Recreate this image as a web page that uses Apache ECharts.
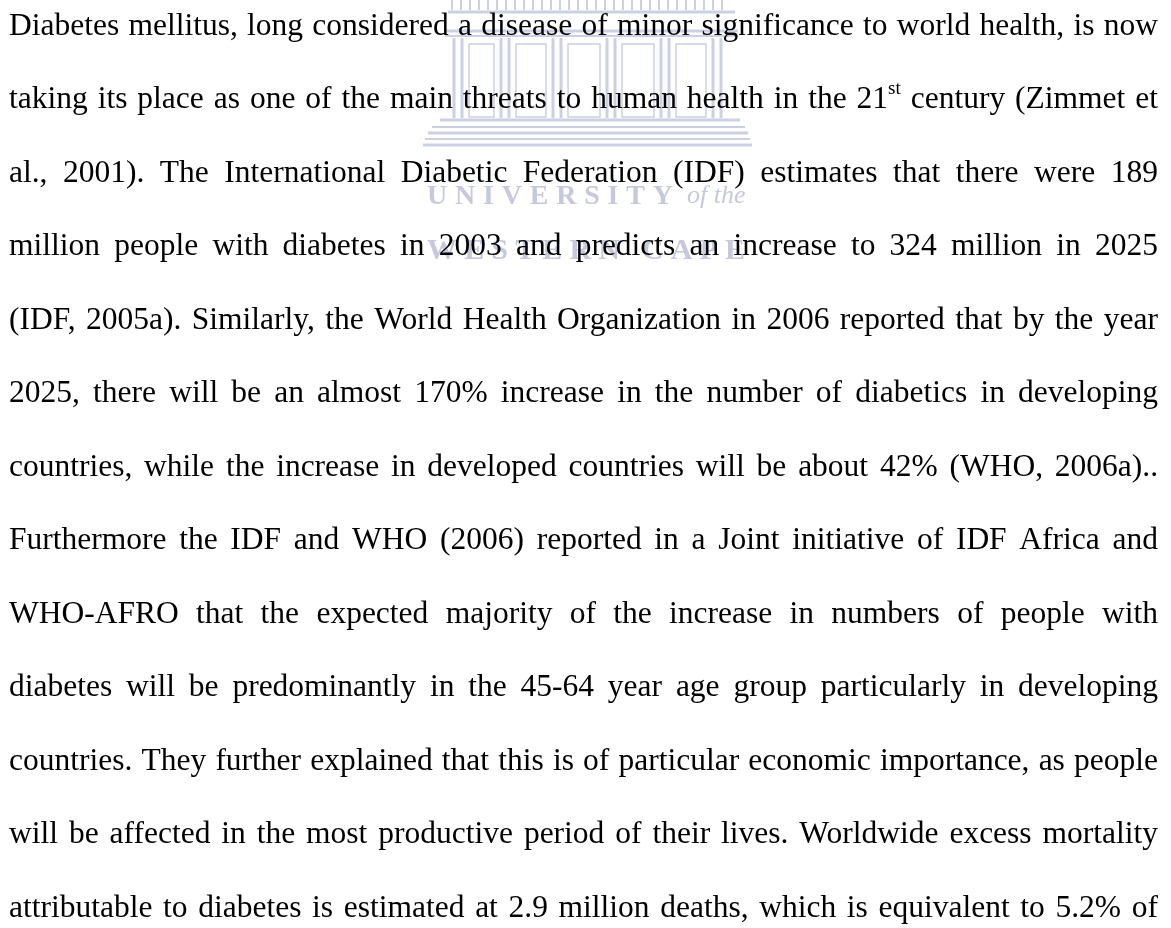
<!DOCTYPE html>
<html><head><meta charset="utf-8">
<script src="https://cdn.jsdelivr.net/npm/echarts@6/dist/echarts.min.js"></script>
<style>html,body{margin:0;padding:0;background:#fff}#c{width:1171px;height:928px}</style>
</head><body><div id="c"></div>
<script>
// ---- content ----
const textLines = [
  "Diabetes mellitus, long considered a disease of minor significance to world health, is now",
  "taking its place as one of the main threats to human health in the 21st century (Zimmet et",
  "al., 2001). The International Diabetic Federation (IDF) estimates that there were 189",
  "million people with diabetes in 2003 and predicts an increase to 324 million in 2025",
  "(IDF, 2005a). Similarly, the World Health Organization in 2006 reported that by the year",
  "2025, there will be an almost 170% increase in the number of diabetics in developing",
  "countries, while the increase in developed countries will be about 42% (WHO, 2006a)..",
  "Furthermore the IDF and WHO (2006) reported in a Joint initiative of IDF Africa and",
  "WHO-AFRO that the expected majority of the increase in numbers of people with",
  "diabetes will be predominantly in the 45-64 year age group particularly in developing",
  "countries. They further explained that this is of particular economic importance, as people",
  "will be affected in the most productive period of their lives. Worldwide excess mortality",
  "attributable to diabetes is estimated at 2.9 million deaths, which is equivalent to 5.2% of"
];
const superscriptWords = { "21st": ["21", "st"] };
const crestLine1 = "UNIVERSITY";
const crestOfThe = "of the";
const crestLine2 = "WESTERN CAPE";

// ---- layout ----
const FS = 31.5, SUPFS = 19;
const FAMILY = '"Liberation Serif","Times New Roman",serif';
const LEFT = 9, RIGHT = 1158, FIRST_BASE = 37, PITCH = 73.5;
const WM = '#ccd0e3';
const WMT = '#c6c9dd';

const ctx = document.createElement('canvas').getContext('2d');
function tw(s, size, extra) { ctx.font = (extra || '') + size + 'px ' + FAMILY; return ctx.measureText(s).width; }

const els = [];
// watermark building
function vline(x, y1, y2, w) { els.push({type:'line', z:1, shape:{x1:x,y1:y1,x2:x,y2:y2}, style:{stroke:WM, lineWidth:w||2}}); }
function hline(x1, x2, y, w) { els.push({type:'line', z:1, shape:{x1:x1,y1:y,x2:x2,y2:y}, style:{stroke:WM, lineWidth:w||2}}); }
for (let x = 452; x <= 730; x += 9) vline(x, 0, 10, 2);
hline(448, 735, 12, 3);
hline(445, 738, 31, 3);
hline(445, 738, 36, 2);
const colX = [458, 505, 557, 611, 665, 717];
colX.forEach(x => { vline(x - 4, 38, 118, 3); vline(x + 4, 38, 118, 3); });
for (let i = 0; i < colX.length - 1; i++) {
  els.push({type:'rect', z:1, shape:{x:colX[i] + 11, y:44, width:colX[i+1] - colX[i] - 22, height:73}, style:{fill:'none', stroke:WM, lineWidth:1.5}});
}
hline(440, 740, 120, 3);
hline(432, 745, 127, 2);
hline(428, 748, 133, 3);
hline(425, 750, 139, 2);
hline(423, 752, 145, 3);

function spacedWord(str, x0, x1, base, size, weight) {
  const ws = [...str].map(c => tw(c, size, weight + ' '));
  const tot = ws.reduce((a, b) => a + b, 0);
  const gap = (x1 - x0 - tot) / Math.max(1, str.length - 1);
  let x = x0;
  [...str].forEach((c, i) => {
    els.push({type:'text', z:2, x:x, y:base - size * 0.34, style:{text:c, fontSize:size, fontFamily:FAMILY, fontWeight:weight, fill:WMT, align:'left', verticalAlign:'middle'}});
    x += ws[i] + gap;
  });
}
spacedWord(crestLine1, 427, 673, 206, 28, 'bold');
els.push({type:'text', z:2, x:687, y:206 - 28 * 0.34, style:{text:crestOfThe, fontSize:26, fontFamily:FAMILY, fontStyle:'italic', fill:WMT, align:'left', verticalAlign:'middle'}});
spacedWord(crestLine2, 427, 745, 261, 30, 'bold');

// body text, justified
textLines.forEach((line, li) => {
  const base = FIRST_BASE + li * PITCH;
  const y = base - FS * 0.34;
  const words = line.split(' ');
  const widths = words.map(w => superscriptWords[w] ? tw(superscriptWords[w][0], FS) + tw(superscriptWords[w][1], SUPFS) : tw(w, FS));
  const sum = widths.reduce((a, b) => a + b, 0);
  const gap = (RIGHT - LEFT - sum) / (words.length - 1);
  let x = LEFT;
  words.forEach((w, i) => {
    if (superscriptWords[w]) {
      const [b, s] = superscriptWords[w];
      els.push({type:'text', z:5, x:x, y:y, style:{text:b, fontSize:FS, fontFamily:FAMILY, fill:'#000', align:'left', verticalAlign:'middle'}});
      els.push({type:'text', z:5, x:x + tw(b, FS), y:y - 11, style:{text:s, fontSize:SUPFS, fontFamily:FAMILY, fill:'#000', align:'left', verticalAlign:'middle'}});
    } else {
      els.push({type:'text', z:5, x:x, y:y, style:{text:w, fontSize:FS, fontFamily:FAMILY, fill:'#000', align:'left', verticalAlign:'middle'}});
    }
    x += widths[i] + gap;
  });
});

const chart = echarts.init(document.getElementById('c'), null, {renderer:'canvas'});
chart.setOption({backgroundColor:'#fff', animation:false, graphic:{elements:els}});
</script></body></html>
